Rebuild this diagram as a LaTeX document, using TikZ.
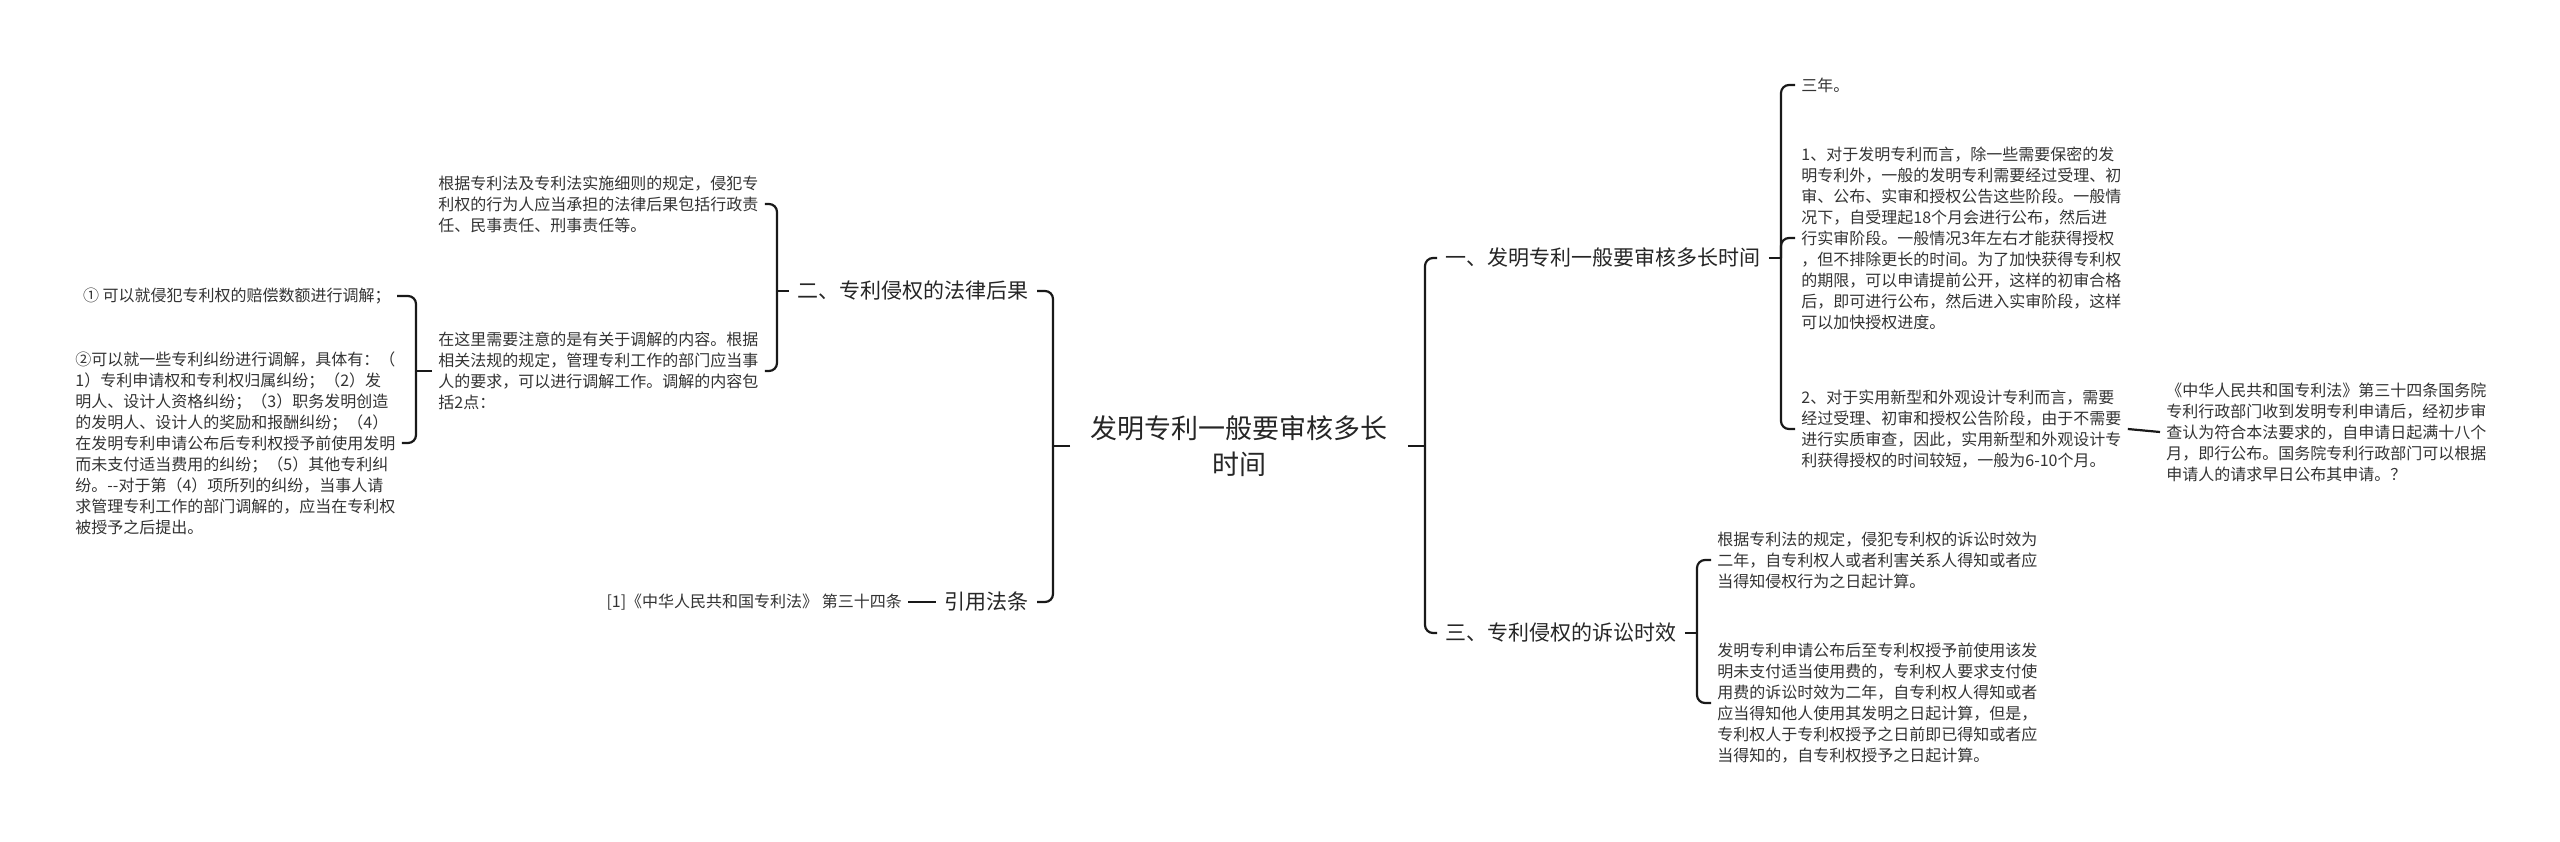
\documentclass[tikz,border=0pt]{standalone}
\usepackage{fontspec}
\setmainfont{Noto Sans CJK SC}
\usetikzlibrary{positioning}

\begin{document}
\begin{tikzpicture}[x=0.5pt,y=-0.5pt,
    txt/.style={text=black!80,inner sep=3pt,align=left,font=\fontsize{8}{10.5}\selectfont},
    topic/.style={text=black!85,inner sep=4pt,font=\fontsize{10.5}{13}\selectfont},
    link/.style={draw=black!90,line width=1.1pt,rounded corners=4pt}]
    \useasboundingbox (0,0) rectangle (2560,841);

    % Root
    \node[text=black!85,align=center,inner xsep=10pt,font=\fontsize{13.5}{18}\selectfont] (root) at (1239,446) {发明专利一般要审核多长\\时间};
    \coordinate (jl) at (1053,446);
    \coordinate (jr) at (1425,446);
    \draw[link] (root.west) -- (jl);
    \draw[link] (root.east) -- (jr);

    % Left topics
    \node[topic,anchor=east] (fa) at (1037,291) {二、专利侵权的法律后果};
    \node[topic,anchor=east] (yy) at (1037,602) {引用法条};
    \node[txt,left=14pt of yy] (ref1) {[1]《中华人民共和国专利法》 第三十四条};
    \foreach \t in {fa,yy}
        \draw[link] (jl) |- (\t.east);
    \draw[link] (ref1.east) -- (yy.west);

    % Legal consequences
    \node[txt,anchor=west] (k1) at (432,204) {根据专利法及专利法实施细则的规定，侵犯专\\利权的行为人应当承担的法律后果包括行政责\\任、民事责任、刑事责任等。};
    \node[txt,anchor=west] (k2) at (432,371) {在这里需要注意的是有关于调解的内容。根据\\相关法规的规定，管理专利工作的部门应当事\\人的要求，可以进行调解工作。调解的内容包\\括2点：};
    \coordinate (jfa) at (777,291);
    \draw[link] (fa.west) -- (jfa);
    \foreach \t in {k1,k2}
        \draw[link] (jfa) |- (\t.east);

    % Mediation points
    \node[txt,anchor=east] (m1) at (397,296) {① 可以就侵犯专利权的赔偿数额进行调解；};
    \node[txt,anchor=west] (m2) at (69,443) {②可以就一些专利纠纷进行调解，具体有：（\\1）专利申请权和专利权归属纠纷；（2）发\\明人、设计人资格纠纷；（3）职务发明创造\\的发明人、设计人的奖励和报酬纠纷；（4）\\在发明专利申请公布后专利权授予前使用发明\\而未支付适当费用的纠纷；（5）其他专利纠\\纷。-{}-对于第（4）项所列的纠纷，当事人请\\求管理专利工作的部门调解的，应当在专利权\\被授予之后提出。};
    \coordinate (jk2) at (416,371);
    \draw[link] (k2.west) -- (jk2);
    \foreach \t in {m1,m2}
        \draw[link] (jk2) |- (\t.east);

    % Right topics
    \node[topic,anchor=west] (sc) at (1437,258) {一、发明专利一般要审核多长时间};
    \node[topic,anchor=west] (ss) at (1437,633) {三、专利侵权的诉讼时效};
    \foreach \t in {sc,ss}
        \draw[link] (jr) |- (\t.west);

    % Examination time
    \node[txt,anchor=west] (sn) at (1795,85) {三年。};
    \node[txt,anchor=west] (r1) at (1795,238) {1、对于发明专利而言，除一些需要保密的发\\明专利外，一般的发明专利需要经过受理、初\\审、公布、实审和授权公告这些阶段。一般情\\况下，自受理起18个月会进行公布，然后进\\行实审阶段。一般情况3年左右才能获得授权\\，但不排除更长的时间。为了加快获得专利权\\的期限，可以申请提前公开，这样的初审合格\\后，即可进行公布，然后进入实审阶段，这样\\可以加快授权进度。};
    \node[txt,anchor=west] (r2) at (1795,429) {2、对于实用新型和外观设计专利而言，需要\\经过受理、初审和授权公告阶段，由于不需要\\进行实质审查，因此，实用新型和外观设计专\\利获得授权的时间较短，一般为6-10个月。};
    \node[txt,anchor=west] (law) at (2160,432) {《中华人民共和国专利法》第三十四条国务院\\专利行政部门收到发明专利申请后，经初步审\\查认为符合本法要求的，自申请日起满十八个\\月，即行公布。国务院专利行政部门可以根据\\申请人的请求早日公布其申请。？};
    \coordinate (jsc) at (1781,258);
    \draw[link] (sc.east) -- (jsc);
    \foreach \t in {sn,r1,r2}
        \draw[link] (jsc) |- (\t.west);
    \draw[link] (r2.east) -- (law.west);

    % Limitation period
    \node[txt,anchor=west] (a1) at (1711,560) {根据专利法的规定，侵犯专利权的诉讼时效为\\二年，自专利权人或者利害关系人得知或者应\\当得知侵权行为之日起计算。};
    \node[txt,anchor=west] (a2) at (1711,703) {发明专利申请公布后至专利权授予前使用该发\\明未支付适当使用费的，专利权人要求支付使\\用费的诉讼时效为二年，自专利权人得知或者\\应当得知他人使用其发明之日起计算，但是，\\专利权人于专利权授予之日前即已得知或者应\\当得知的，自专利权授予之日起计算。};
    \coordinate (jss) at (1697,633);
    \draw[link] (ss.east) -- (jss);
    \foreach \t in {a1,a2}
        \draw[link] (jss) |- (\t.west);
\end{tikzpicture}
\end{document}
